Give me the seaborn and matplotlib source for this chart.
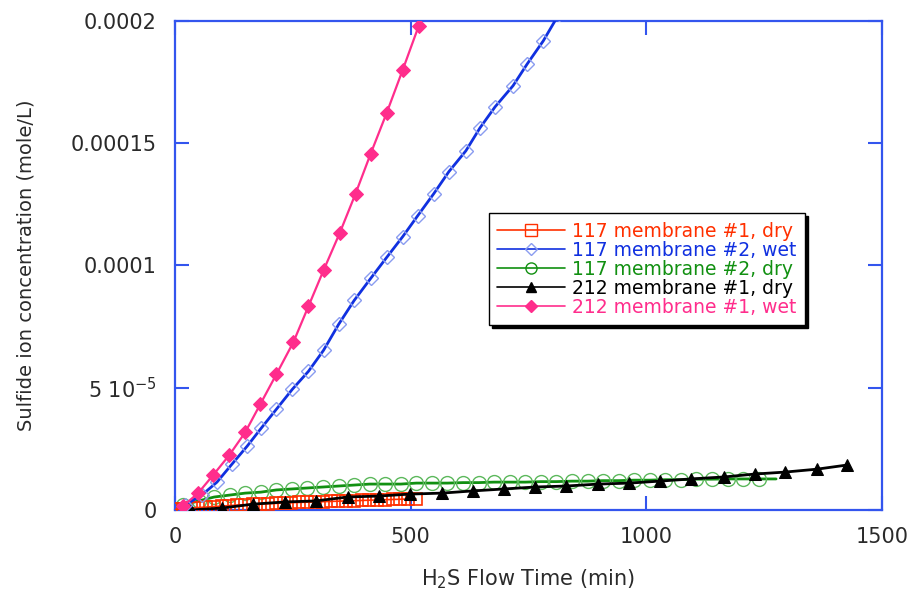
import matplotlib
matplotlib.use("Agg")
import matplotlib.pyplot as plt
import seaborn as sns
import numpy as np
from matplotlib.lines import Line2D

# ---------------- data ----------------
red_t = [0, 16, 33, 49, 66, 82, 99, 115, 132, 148, 165, 181, 198, 214, 231, 247,
         264, 280, 297, 313, 330, 346, 363, 379, 396, 412, 429, 445, 462, 478, 495, 511]
red_v = [0.2e-6, 0.5e-6, 0.8e-6, 1.0e-6, 1.2e-6, 1.4e-6, 1.6e-6, 1.8e-6, 2.0e-6, 2.1e-6,
         2.3e-6, 2.4e-6, 2.6e-6, 2.7e-6, 2.9e-6, 3.0e-6, 3.1e-6, 3.2e-6, 3.3e-6, 3.4e-6,
         3.5e-6, 3.6e-6, 3.7e-6, 3.8e-6, 3.9e-6, 4.0e-6, 4.1e-6, 4.2e-6, 4.3e-6, 4.4e-6,
         4.5e-6, 4.6e-6]

blue_t = [21, 57, 89, 121, 153, 183, 215, 249, 283, 315, 347, 380, 415, 449, 483, 515,
          549, 581, 617, 647, 679, 717, 747, 781, 815]
blue_v = [2.0e-6, 6.1e-6, 1.14e-5, 1.88e-5, 2.61e-5, 3.35e-5, 4.12e-5, 4.94e-5, 5.67e-5,
          6.53e-5, 7.59e-5, 8.57e-5, 9.47e-5, 1.033e-4, 1.118e-4, 1.204e-4, 1.294e-4,
          1.384e-4, 1.469e-4, 1.563e-4, 1.649e-4, 1.735e-4, 1.824e-4, 1.918e-4, 2.03e-4]

green_t = [17, 50, 83, 116, 149, 182, 215, 248, 281, 314, 347, 380, 413, 446, 479, 512,
           545, 578, 611, 644, 677, 710, 743, 776, 809, 842, 875, 908, 941, 974, 1007,
           1040, 1073, 1106, 1139, 1172, 1205, 1238, 1275]
green_v = [2.0e-6, 3.7e-6, 5.3e-6, 6.1e-6, 6.9e-6, 7.3e-6, 8.2e-6, 8.6e-6, 9.0e-6, 9.4e-6,
           9.8e-6, 1.02e-5, 1.06e-5, 1.06e-5, 1.06e-5, 1.10e-5, 1.10e-5, 1.10e-5, 1.12e-5,
           1.12e-5, 1.14e-5, 1.14e-5, 1.14e-5, 1.16e-5, 1.16e-5, 1.18e-5, 1.18e-5, 1.20e-5,
           1.20e-5, 1.22e-5, 1.22e-5, 1.24e-5, 1.24e-5, 1.26e-5, 1.26e-5, 1.27e-5, 1.27e-5,
           1.27e-5, 1.27e-5]

black_t = [34, 100, 166, 234, 298, 366, 432, 498, 566, 632, 698, 764, 830, 898, 964,
           1028, 1094, 1164, 1230, 1294, 1362, 1426]
black_v = [0.0, 0.8e-6, 2.4e-6, 3.3e-6, 3.7e-6, 5.3e-6, 5.7e-6, 6.5e-6, 6.9e-6, 7.8e-6,
           8.6e-6, 9.4e-6, 9.8e-6, 1.06e-5, 1.10e-5, 1.18e-5, 1.27e-5, 1.35e-5, 1.47e-5,
           1.55e-5, 1.67e-5, 1.84e-5]

pink_t = [17, 49, 81, 115, 149, 181, 215, 251, 283, 315, 349, 383, 415, 449, 483, 517]
pink_v = [1.6e-6, 6.9e-6, 1.43e-5, 2.24e-5, 3.18e-5, 4.33e-5, 5.55e-5, 6.86e-5, 8.33e-5,
          9.80e-5, 1.131e-4, 1.294e-4, 1.457e-4, 1.624e-4, 1.800e-4, 1.980e-4]

labels = ["117 membrane #1, dry", "117 membrane #2, wet", "117 membrane #2, dry",
          "212 membrane #1, dry", "212 membrane #1, wet"]

x_ticks = [0, 500, 1000, 1500]
y_ticks = [0, 5e-5, 1e-4, 1.5e-4, 2e-4]
y_ticklabels = ["0", "5 10$^{-5}$", "0.0001", "0.00015", "0.0002"]

# ---------------- style ----------------
sns.set_style("white")
plt.rcParams["font.family"] = ["DejaVu Sans"]

RED = "#ff3000"
BLUE = "#1030e0"
BLUE_M = "#8a9cf0"
GREEN = "#119011"
GREEN_M = "#5cb85c"
BLACK = "#000000"
PINK = "#ff2d8c"
FRAME = "#3355ee"
TXT = "#2a2a2a"

fig = plt.figure(figsize=(9.13, 5.99), dpi=100)
ax = fig.add_axes([0.1917, 0.1486, 0.7745, 0.8164])

sns.lineplot(x=green_t, y=green_v, ax=ax, color=GREEN, lw=2, marker="o", ms=10,
             mfc="none", mec=GREEN_M, mew=1.0, markevery=slice(0, len(green_t) - 1),
             zorder=2, estimator=None, sort=False)
sns.lineplot(x=red_t, y=red_v, ax=ax, color=RED, lw=1.2, marker="s", ms=8,
             mfc="none", mec=RED, mew=1.2, zorder=3, estimator=None, sort=False)
sns.lineplot(x=black_t, y=black_v, ax=ax, color=BLACK, lw=2, marker="^", ms=8,
             mfc=BLACK, mec=BLACK, zorder=4, estimator=None, sort=False)
sns.lineplot(x=blue_t, y=blue_v, ax=ax, color=BLUE, lw=2, marker="D", ms=7,
             mfc="none", mec=BLUE_M, mew=1.0, zorder=5, estimator=None, sort=False)
sns.lineplot(x=pink_t, y=pink_v, ax=ax, color=PINK, lw=1.6, marker="D", ms=7,
             mfc=PINK, mec=PINK, zorder=6, estimator=None, sort=False)

ax.set_xlim(0, 1500)
ax.set_ylim(0, 2e-4)
ax.set_xticks(x_ticks)
ax.set_xticklabels([str(t) for t in x_ticks])
ax.set_yticks(y_ticks)
ax.set_yticklabels(y_ticklabels)

for sp in ax.spines.values():
    sp.set_color(FRAME)
    sp.set_linewidth(1.6)
    sp.set_visible(True)
ax.tick_params(axis="both", which="major", direction="in", length=10, width=1.5,
               color=FRAME, labelsize=15, labelcolor=TXT,
               top=True, right=True, bottom=True, left=True)
ax.tick_params(axis="x", pad=12)
ax.tick_params(axis="y", pad=13)

ax.set_xlabel("H$_2$S Flow Time (min)", fontsize=15, color=TXT)
ax.xaxis.set_label_coords(0.5, -0.117)
ax.set_ylabel("Sulfide ion concentration (mole/L)", fontsize=14, color=TXT)
ax.yaxis.set_label_coords(-0.197, 0.5)

# ---------------- legend ----------------
handles = [
    Line2D([], [], color=RED, lw=1.2, marker="s", ms=8, mfc="none", mec=RED),
    Line2D([], [], color=BLUE, lw=1.2, marker="D", ms=6, mfc="none", mec=BLUE_M),
    Line2D([], [], color=GREEN, lw=1.2, marker="o", ms=8, mfc="none", mec=GREEN),
    Line2D([], [], color=BLACK, lw=1.2, marker="^", ms=7, mfc=BLACK, mec=BLACK),
    Line2D([], [], color=PINK, lw=1.2, marker="D", ms=6, mfc=PINK, mec=PINK),
]
leg = ax.legend(handles, labels, loc="upper left", bbox_to_anchor=(0.444, 0.607),
                borderaxespad=0.0,
                fontsize=13.5, handlelength=3.6, handletextpad=0.4, labelspacing=0.0,
                borderpad=0.45, frameon=True, fancybox=False,
                shadow={"color": "black", "alpha": 1.0}, framealpha=1.0)
leg.get_frame().set_edgecolor("black")
leg.get_frame().set_linewidth(1.0)
for txt, c in zip(leg.get_texts(), [RED, BLUE, GREEN, BLACK, PINK]):
    txt.set_color(c)

fig.savefig("out.png", dpi=100)
